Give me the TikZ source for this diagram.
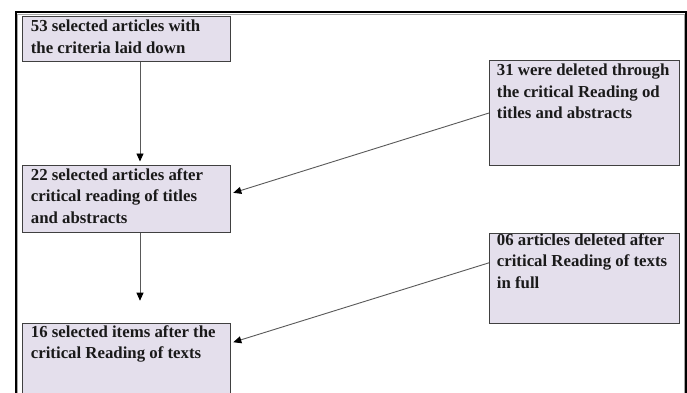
\documentclass[tikz,border=0pt]{standalone}
\usepackage{fontspec}
\setmainfont{Liberation Serif}
\newfontfamily\boxfont{Liberation Serif Bold}
\usetikzlibrary{arrows.meta,calc}
\definecolor{boxfill}{HTML}{E4DFEC}
\definecolor{boxline}{HTML}{404040}
\definecolor{arrline}{HTML}{595959}
\definecolor{txt}{HTML}{1A1A1A}
\tikzset{
  box/.style={draw=boxline, fill=boxfill, line width=1pt, inner sep=0pt, anchor=north west, rectangle},
  lbl/.style={anchor=base west, inner sep=0pt, text=txt, font=\boxfont\fontsize{16.8}{21.5}\selectfont},
  arr/.style={draw=arrline, line width=0.9pt, -{Triangle[black,length=8pt,width=7pt]}}
}
\begin{document}
\begin{tikzpicture}[x=1pt,y=-1pt]
\useasboundingbox (0,0) rectangle (687,392);
\clip (0,0) rectangle (687,392);
\fill[white] (0,0) rectangle (687,392);
% outer frame
\draw[black, line width=2.3pt] (15.8,12.2) rectangle (686,420);
\draw[gray!70, line width=0.9pt] (17.9,14.2) rectangle (684.1,420);
% boxes
\node[box, minimum width=208pt, minimum height=45pt] (b1) at (22,16) {};
\node[box, minimum width=208pt, minimum height=67pt] (b2) at (22,165) {};
\node[box, minimum width=208pt, minimum height=100pt] (b3) at (22,322.7) {};
\node[box, minimum width=190pt, minimum height=105pt] (b4) at (489,60) {};
\node[box, minimum width=190pt, minimum height=90pt] (b5) at (489,232.7) {};
% texts
\node[lbl] (t1) at (30.7,31.7) {\parbox[t]{300pt}{\raggedright 53 selected articles with\\the criteria laid down}};
\node[lbl] (t2) at (30.7,180) {\parbox[t]{300pt}{\raggedright 22 selected articles after\\critical reading of titles\\and abstracts}};
\node[lbl] (t3) at (30.7,337.3) {\parbox[t]{300pt}{\raggedright 16 selected items after the\\critical Reading of texts}};
\node[lbl] (t4) at (496.7,75.5) {\parbox[t]{300pt}{\raggedright 31 were deleted through\\the critical Reading od\\titles and abstracts}};
\node[lbl] (t5) at (496.7,245) {\parbox[t]{300pt}{\raggedright 06 articles deleted after\\critical Reading of texts\\in full}};
% connectors
\coordinate (xa) at (140,0);
\draw[arr, shorten >=3.5pt] (b1.south -| xa) -- (b2.north -| xa);
\draw[arr, shorten >=22pt] (b2.south -| xa) -- (b3.north -| xa);
\draw[arr] (b4.west) -- ($(b2.east)+(2.3,-6.2)$);
\draw[arr] ($(b5.west)+(0,-15.4)$) -- ($(b3.north east)+(2.3,19.5)$);
\end{tikzpicture}
\end{document}
